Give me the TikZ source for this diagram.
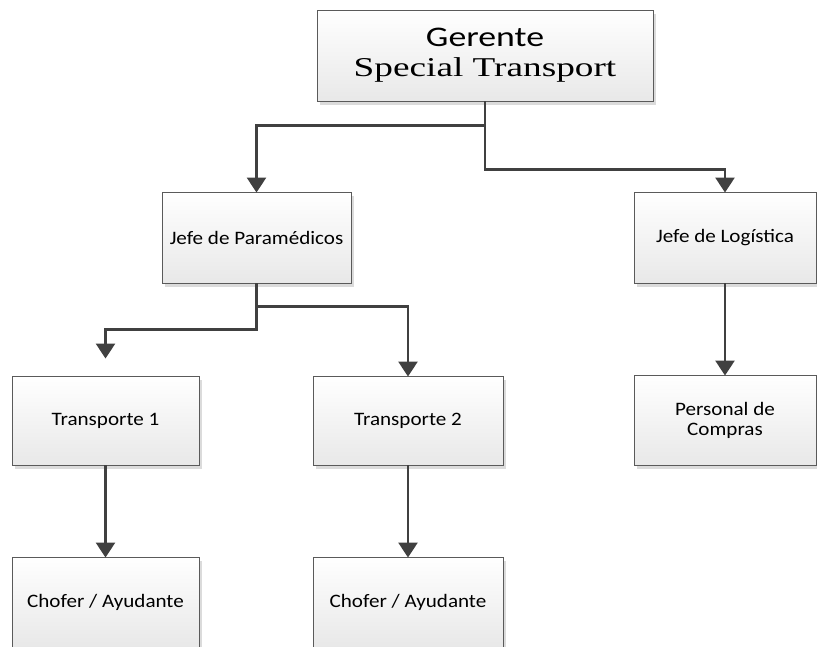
\documentclass[tikz,border=0pt]{standalone}
\usepackage{fontspec}
\setmainfont{Liberation Serif}
\newfontfamily\fcal{Carlito}[FakeStretch=1.11]
\newfontfamily\fcalG{Carlito}[FakeStretch=1.26]
\newfontfamily\fser{Liberation Serif}[FakeStretch=1.37]
\usetikzlibrary{arrows.meta,shadows}
\definecolor{linec}{HTML}{404040}
\definecolor{boxline}{HTML}{5A5A5A}
\tikzset{
  orgbox/.style={draw=boxline, line width=0.9pt, top color=white, bottom color=black!9,
    drop shadow={shadow xshift=3pt, shadow yshift=-4pt, fill=black!14, opacity=1},
    inner sep=0pt, align=center, font=\fcal\fontsize{19}{20}\selectfont},
  conn/.style={draw=linec, line width=2.6pt},
  arr/.style={conn, -{Triangle[width=19pt,length=15pt]}, shorten >=-1pt}
}
\begin{document}
\begin{tikzpicture}[x=1pt,y=-1pt]
\path[use as bounding box] (0,0) rectangle (817,646);
\clip (0,0) rectangle (817,646);
\node[orgbox, minimum width=336pt, minimum height=91pt, font=\fontsize{28}{30}\selectfont] (g) at (485,55.5)
  {{\fcalG\fontsize{28.4}{30}\selectfont Gerente}\\{\fser\fontsize{27.2}{30}\selectfont Special Transport}};
\node[orgbox, minimum width=189pt, minimum height=91pt] (jp) at (256.5,237.5) {Jefe de Paramédicos};
\node[orgbox, minimum width=182pt, minimum height=91pt] (jl) at (725,237.5) {Jefe de Logística};
\node[orgbox, minimum width=187pt, minimum height=89pt] (t1) at (105.5,420.5) {Transporte 1};
\node[orgbox, minimum width=190pt, minimum height=89pt] (t2) at (408,420.5) {Transporte 2};
\node[orgbox, minimum width=182pt, minimum height=90pt] (pc) at (725,420) {Personal de\\Compras};
\node[orgbox, minimum width=187pt, minimum height=90pt] (c1) at (105.5,602) {Chofer / Ayudante};
\node[orgbox, minimum width=190pt, minimum height=90pt] (c2) at (408,602) {Chofer / Ayudante};
\coordinate (t1in) at ([yshift=18pt]t1.north);
\draw[arr] (g.south) -- ++(0,24) -| (jp.north);
\draw[arr] (g.south) -- ++(0,68) -| (jl.north);
\draw[arr] (jp.south) -- ++(0,46) -| (t1in);
\draw[arr] (jp.south) -- ++(0,23) -| (t2.north);
\draw[arr] (jl.south) -- (pc.north);
\draw[arr] (t1.south) -- (c1.north);
\draw[arr] (t2.south) -- (c2.north);
\end{tikzpicture}
\end{document}
